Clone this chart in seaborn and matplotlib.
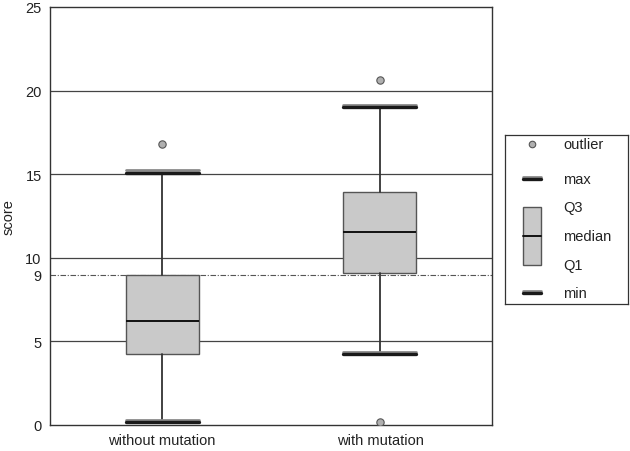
import numpy as np
import pandas as pd
import seaborn as sns
import matplotlib.pyplot as plt
import matplotlib.patheffects as pe

# box statistics
groups = ['without mutation', 'with mutation']
mins = [0.2, 4.25]
q1s = [4.25, 9.1]
medians = [6.2, 11.55]
q3s = [9.0, 13.95]
maxs = [15.1, 19.0]
outlier_group = ['without mutation', 'with mutation', 'with mutation']
outlier_vals = [16.8, 20.65, 0.2]
threshold = 9
yticks = [0, 5, 9, 10, 15, 20, 25]

sns.set_style('white')
plt.rcParams['font.family'] = ['Liberation Sans', 'DejaVu Sans']

fig = plt.figure(figsize=(6.3, 4.52), dpi=100)
ax = fig.add_axes([50 / 630, 1 - 426 / 452, 442 / 630, 418 / 452])

# grid + threshold line
for y in [5, 10, 15, 20]:
    ax.axhline(y, color='#444444', lw=0.9, zorder=0)
ax.axhline(threshold, color='#555555', lw=0.8, ls=(0, (5, 1.5, 1, 1.5)), zorder=0)

stats = []
for i, g in enumerate(groups):
    stats.append(dict(label=g, whislo=mins[i], q1=q1s[i], med=medians[i],
                      q3=q3s[i], whishi=maxs[i], fliers=[]))

cap_fx = [pe.Stroke(linewidth=2.0, foreground='#8a8a8a', offset=(0, 1.5)), pe.Normal()]
ax.bxp(stats, positions=range(len(groups)), widths=0.335, capwidths=0.335,
       showfliers=False, patch_artist=True,
       boxprops=dict(facecolor='#c9c9c9', edgecolor='#555555', lw=1.0),
       medianprops=dict(color='#111111', lw=1.4),
       whiskerprops=dict(color='#333333', lw=1.3),
       capprops=dict(color='#1a1a1a', lw=2.4, path_effects=cap_fx))

outliers = pd.DataFrame({'group': outlier_group, 'score': outlier_vals})
outliers['pos'] = outliers['group'].map({g: i for i, g in enumerate(groups)})
sns.scatterplot(data=outliers, x='pos', y='score', ax=ax, s=28,
                color='#b0b0b0', edgecolor='#555555', linewidth=0.8, zorder=5)

ax.set_xlim(-0.514, 1.514)
ax.set_ylim(0, 25)
ax.set_yticks(yticks)
ax.set_yticklabels([str(t) for t in yticks], fontsize=10.5, color='#222222')
ax.set_xticks(range(len(groups)))
ax.set_xticklabels(groups, fontsize=10.5, color='#222222')
ax.tick_params(axis='y', length=3, width=0.8, color='#333333', pad=3)
ax.tick_params(axis='x', length=0, pad=6)
ax.set_xlabel('')
ax.set_ylabel('score', fontsize=10.5, color='#222222')
ax.yaxis.set_label_coords(-0.077, 0.5)
for s in ax.spines.values():
    s.set_color('#333333')
    s.set_linewidth(1.0)

# hand-built legend panel
lg = fig.add_axes([505 / 630, 1 - 305 / 452, 123 / 630, 169 / 452])
lg.set_xlim(0, 123)
lg.set_ylim(169, 0)
lg.set_xticks([])
lg.set_yticks([])
for s in lg.spines.values():
    s.set_color('#333333')
    s.set_linewidth(0.9)
lg.scatter([27], [9], s=22, color='#b0b0b0', edgecolor='#555555', linewidth=0.8)
lg.plot([18, 36], [44, 44], color='#1a1a1a', lw=2.4, path_effects=cap_fx)
lg.plot([18, 36], [158, 158], color='#1a1a1a', lw=2.4, path_effects=cap_fx)
lg.add_patch(plt.Rectangle((18, 72), 18, 58, facecolor='#c9c9c9',
                           edgecolor='#555555', lw=1.0))
lg.plot([18, 36], [101, 101], color='#111111', lw=1.4)
for y, t in [(9, 'outlier'), (44, 'max'), (72, 'Q3'), (101, 'median'),
             (130, 'Q1'), (158, 'min')]:
    lg.text(58, y, t, fontsize=10.5, va='center', ha='left', color='#222222')

fig.savefig('out.png', dpi=100)
